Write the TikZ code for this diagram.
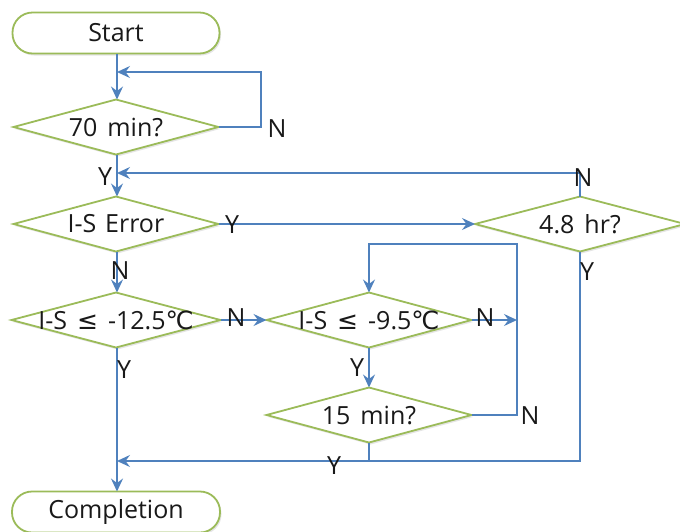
\documentclass[tikz,border=0pt]{standalone}
\usepackage{fontspec}
\setmainfont{Open Sans}
\newfontfamily\symf{DejaVu Sans}
\usetikzlibrary{shapes.geometric,arrows.meta,shadows}
\definecolor{ogreen}{HTML}{9BBB59}
\definecolor{oblue}{HTML}{4F81BD}
\begin{document}
\begin{tikzpicture}[x=1pt,y=-1pt,
  every node/.style={font=\fontsize{25}{28}\selectfont, text=black!90},
  shade/.style={drop shadow={shadow xshift=1.5pt, shadow yshift=-2pt, opacity=0.10, fill=black}},
  term/.style={draw=ogreen, line width=1.8pt, fill=white, rounded corners=20pt,
    minimum width=207pt, minimum height=41pt, inner sep=0pt, outer sep=0pt, shade},
  decis/.style={draw=ogreen, line width=1.8pt, fill=white, diamond, inner sep=0pt,
    outer sep=0pt, minimum width=205pt, minimum height=55pt, shade},
  conn/.style={draw=oblue, line width=1.8pt},
  arr/.style={conn, -{Stealth[length=13pt,width=12pt,inset=4.5pt]}},
  lab/.style={inner sep=0pt}
]
\useasboundingbox (0,0) rectangle (680,531);

% nodes
\node[term] (start) at (116,33) {Start};
\node[decis, label=center:{70\hspace{0.4em}min?}] (d70) at (116,127) {};
\node[decis, label=center:{I-S\hspace{0.35em}Error}] (derr) at (116,224) {};
\node[decis, minimum width=210pt, label=center:{4.8\hspace{0.4em}hr?}] (d48) at (580,224) {};
\node[decis, minimum width=209pt, label=center:{I-S\hspace{0.4em}{\symf ≤}\hspace{0.4em}-12.5{\symf ℃}}] (d125) at (116,320) {};
\node[decis, label=center:{I-S\hspace{0.4em}{\symf ≤}\hspace{0.4em}-9.5{\symf ℃}}] (d95) at (369,320) {};
\node[decis, label=center:{15\hspace{0.4em}min?}] (d15) at (369,415) {};
\node[term, minimum width=208pt] (end) at (116,512) {Completion};

% junction coordinates
\coordinate (j1) at (117,72);
\coordinate (j2) at (117,173);
\coordinate (j3) at (117,461);
\coordinate (l1) at (261,72);
\coordinate (r1) at (517,320);
\coordinate (rt) at (517,244);

% connectors
\draw[arr] (start.south -| j1) -- (d70.north -| j1);
\draw[arr] (d70.east) -| (l1) -- (j1);
\draw[arr] (d70.south -| j1) -- (derr.north -| j1);
\draw[arr] (d48.north) |- (j2);
\draw[arr] (derr.east) -- (d48.west);
\draw[arr] (derr.south -| j1) -- (d125.north -| j1);
\draw[arr] (d125.south -| j1) -- (end.north -| j1);
\draw[arr] (d48.south) |- (j3);
\draw[conn] (d15.south) -- (d15.south |- j3);
\draw[arr] (d125.east) -- (d95.west);
\draw[arr] (d95.east) -- (r1);
\draw[arr] (d15.east) -| (rt) -| (d95.north);
\draw[arr] (d95) -- (d15);

% labels
\node[lab] (n1) at (277,129) {N};
\node[lab] (y1) at (105,177) {Y};
\node[lab] (y2) at (232,225) {Y};
\node[lab] (n2) at (583,178) {N};
\node[lab] (n3) at (120,271) {N};
\node[lab] (y3) at (587,272) {Y};
\node[lab] (n4) at (236,318) {N};
\node[lab] (y4) at (124,370) {Y};
\node[lab] (n5) at (485,318) {N};
\node[lab] (y5) at (357,368) {Y};
\node[lab] (n6) at (530,416) {N};
\node[lab] (y6) at (334,466) {Y};
\end{tikzpicture}
\end{document}
